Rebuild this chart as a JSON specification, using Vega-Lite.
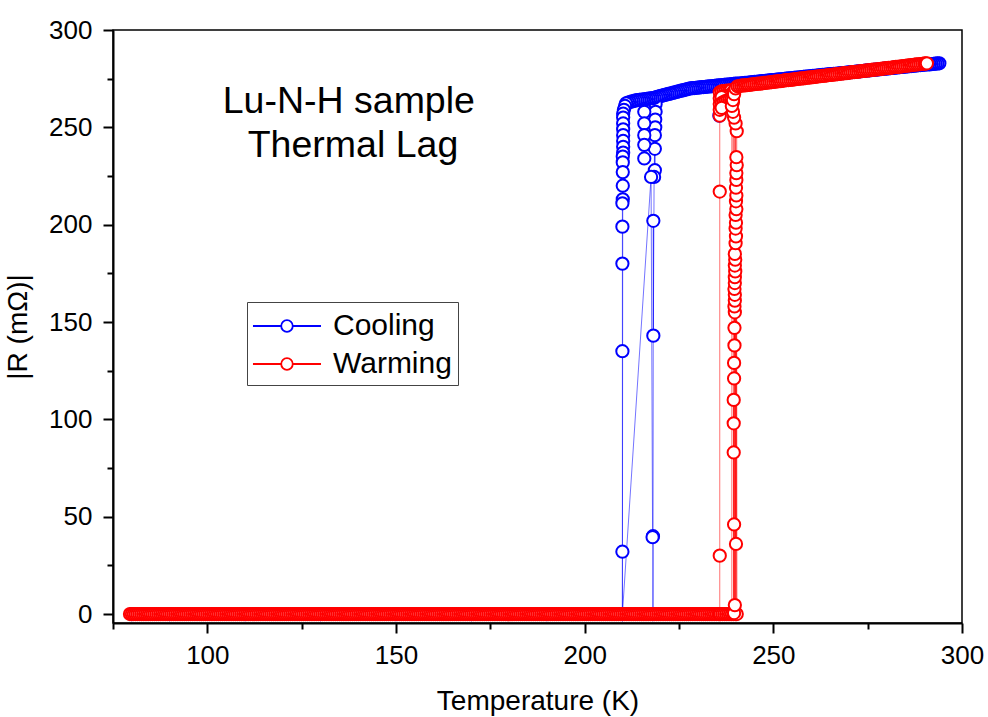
{
"$schema":"https://vega.github.io/schema/vega-lite/v6.json",
"width":849,"height":593,
"autosize":{"type":"none"},
"padding":{"left":113,"top":30,"right":26,"bottom":94},
"background":"white",
"config":{"font":"Liberation Sans","view":{"stroke":"black","strokeWidth":1.5}},
"datasets":{
"notes":[{"T":137.5,"R":257.3,"t":"Lu-N-H sample"},{"T":138.6,"R":234.7,"t":"Thermal Lag"}],
"pts":[
{"s":"Cooling","r":1,"T":294,"R":282.9},{"s":"Cooling","r":1,"T":293.5,"R":282.8},{"s":"Cooling","r":1,"T":293,"R":282.7},{"s":"Cooling","r":1,"T":292.5,"R":282.6},{"s":"Cooling","r":1,"T":292,"R":282.5},{"s":"Cooling","r":1,"T":291.5,"R":282.4},{"s":"Cooling","r":1,"T":291,"R":282.3},{"s":"Cooling","r":1,"T":290.5,"R":282.3},{"s":"Cooling","r":1,"T":290,"R":282.2},{"s":"Cooling","r":1,"T":289.5,"R":282.1},
{"s":"Cooling","r":1,"T":289,"R":282.0},{"s":"Cooling","r":1,"T":288.5,"R":281.9},{"s":"Cooling","r":1,"T":288,"R":281.8},{"s":"Cooling","r":1,"T":287.5,"R":281.7},{"s":"Cooling","r":1,"T":287,"R":281.6},{"s":"Cooling","r":1,"T":286.5,"R":281.5},{"s":"Cooling","r":1,"T":286,"R":281.4},{"s":"Cooling","r":1,"T":285.5,"R":281.3},{"s":"Cooling","r":1,"T":285,"R":281.2},{"s":"Cooling","r":1,"T":284.5,"R":281.1},
{"s":"Cooling","r":1,"T":284,"R":281.0},{"s":"Cooling","r":1,"T":283.5,"R":280.9},{"s":"Cooling","r":1,"T":283,"R":280.8},{"s":"Cooling","r":1,"T":282.5,"R":280.7},{"s":"Cooling","r":1,"T":282,"R":280.6},{"s":"Cooling","r":1,"T":281.5,"R":280.5},{"s":"Cooling","r":1,"T":281,"R":280.4},{"s":"Cooling","r":1,"T":280.5,"R":280.3},{"s":"Cooling","r":1,"T":280,"R":280.2},{"s":"Cooling","r":1,"T":279.5,"R":280.1},
{"s":"Cooling","r":1,"T":279,"R":280.0},{"s":"Cooling","r":1,"T":278.5,"R":279.9},{"s":"Cooling","r":1,"T":278,"R":279.8},{"s":"Cooling","r":1,"T":277.5,"R":279.7},{"s":"Cooling","r":1,"T":277,"R":279.6},{"s":"Cooling","r":1,"T":276.5,"R":279.5},{"s":"Cooling","r":1,"T":276,"R":279.4},{"s":"Cooling","r":1,"T":275.5,"R":279.3},{"s":"Cooling","r":1,"T":275,"R":279.2},{"s":"Cooling","r":1,"T":274.5,"R":279.1},
{"s":"Cooling","r":1,"T":274,"R":279.0},{"s":"Cooling","r":1,"T":273.5,"R":278.9},{"s":"Cooling","r":1,"T":273,"R":278.8},{"s":"Cooling","r":1,"T":272.5,"R":278.7},{"s":"Cooling","r":1,"T":272,"R":278.6},{"s":"Cooling","r":1,"T":271.5,"R":278.5},{"s":"Cooling","r":1,"T":271,"R":278.4},{"s":"Cooling","r":1,"T":270.5,"R":278.3},{"s":"Cooling","r":1,"T":270,"R":278.2},{"s":"Cooling","r":1,"T":269.5,"R":278.1},
{"s":"Cooling","r":1,"T":269,"R":278.0},{"s":"Cooling","r":1,"T":268.5,"R":277.9},{"s":"Cooling","r":1,"T":268,"R":277.8},{"s":"Cooling","r":1,"T":267.5,"R":277.7},{"s":"Cooling","r":1,"T":267,"R":277.6},{"s":"Cooling","r":1,"T":266.5,"R":277.5},{"s":"Cooling","r":1,"T":266,"R":277.4},{"s":"Cooling","r":1,"T":265.5,"R":277.3},{"s":"Cooling","r":1,"T":265,"R":277.3},{"s":"Cooling","r":1,"T":264.5,"R":277.2},
{"s":"Cooling","r":1,"T":264,"R":277.1},{"s":"Cooling","r":1,"T":263.5,"R":277.0},{"s":"Cooling","r":1,"T":263,"R":276.9},{"s":"Cooling","r":1,"T":262.5,"R":276.8},{"s":"Cooling","r":1,"T":262,"R":276.7},{"s":"Cooling","r":1,"T":261.5,"R":276.6},{"s":"Cooling","r":1,"T":261,"R":276.5},{"s":"Cooling","r":1,"T":260.5,"R":276.4},{"s":"Cooling","r":1,"T":260,"R":276.3},{"s":"Cooling","r":1,"T":259.5,"R":276.2},
{"s":"Cooling","r":1,"T":259,"R":276.1},{"s":"Cooling","r":1,"T":258.5,"R":276.0},{"s":"Cooling","r":1,"T":258,"R":275.9},{"s":"Cooling","r":1,"T":257.5,"R":275.8},{"s":"Cooling","r":1,"T":257,"R":275.7},{"s":"Cooling","r":1,"T":256.5,"R":275.6},{"s":"Cooling","r":1,"T":256,"R":275.5},{"s":"Cooling","r":1,"T":255.5,"R":275.4},{"s":"Cooling","r":1,"T":255,"R":275.3},{"s":"Cooling","r":1,"T":254.5,"R":275.2},
{"s":"Cooling","r":1,"T":254,"R":275.1},{"s":"Cooling","r":1,"T":253.5,"R":275.0},{"s":"Cooling","r":1,"T":253,"R":274.9},{"s":"Cooling","r":1,"T":252.5,"R":274.8},{"s":"Cooling","r":1,"T":252,"R":274.7},{"s":"Cooling","r":1,"T":251.5,"R":274.6},{"s":"Cooling","r":1,"T":251,"R":274.5},{"s":"Cooling","r":1,"T":250.5,"R":274.4},{"s":"Cooling","r":1,"T":250,"R":274.3},{"s":"Cooling","r":1,"T":249.5,"R":274.2},
{"s":"Cooling","r":1,"T":249,"R":274.1},{"s":"Cooling","r":1,"T":248.5,"R":274.0},{"s":"Cooling","r":1,"T":248,"R":273.9},{"s":"Cooling","r":1,"T":247.5,"R":273.8},{"s":"Cooling","r":1,"T":247,"R":273.7},{"s":"Cooling","r":1,"T":246.5,"R":273.6},{"s":"Cooling","r":1,"T":246,"R":273.5},{"s":"Cooling","r":1,"T":245.5,"R":273.4},{"s":"Cooling","r":1,"T":245,"R":273.3},{"s":"Cooling","r":1,"T":244.5,"R":273.2},
{"s":"Cooling","r":1,"T":244,"R":273.1},{"s":"Cooling","r":1,"T":243.5,"R":273.0},{"s":"Cooling","r":1,"T":243,"R":272.9},{"s":"Cooling","r":1,"T":242.5,"R":272.8},{"s":"Cooling","r":1,"T":242,"R":272.7},{"s":"Cooling","r":1,"T":241.5,"R":272.6},{"s":"Cooling","r":1,"T":241,"R":272.5},{"s":"Cooling","r":1,"T":240.5,"R":272.4},{"s":"Cooling","r":1,"T":240,"R":272.4},{"s":"Cooling","r":1,"T":239.5,"R":272.3},
{"s":"Cooling","r":1,"T":239,"R":272.2},{"s":"Cooling","r":1,"T":238.5,"R":272.1},{"s":"Cooling","r":1,"T":238,"R":272.0},{"s":"Cooling","r":1,"T":237.5,"R":271.9},{"s":"Cooling","r":1,"T":237,"R":271.8},{"s":"Cooling","r":1,"T":236.5,"R":271.7},{"s":"Cooling","r":1,"T":236,"R":271.6},{"s":"Cooling","r":1,"T":235.7,"R":256},{"s":"Cooling","r":1,"T":235.5,"R":271.5},{"s":"Cooling","r":1,"T":235,"R":271.4},
{"s":"Cooling","r":1,"T":234.5,"R":271.3},{"s":"Cooling","r":1,"T":234,"R":271.2},{"s":"Cooling","r":1,"T":233.5,"R":271.1},{"s":"Cooling","r":1,"T":233,"R":271.0},{"s":"Cooling","r":1,"T":232.5,"R":270.9},{"s":"Cooling","r":1,"T":232,"R":270.8},{"s":"Cooling","r":1,"T":231.5,"R":270.7},{"s":"Cooling","r":1,"T":231,"R":270.6},{"s":"Cooling","r":1,"T":230.5,"R":270.5},{"s":"Cooling","r":1,"T":230,"R":270.4},
{"s":"Cooling","r":1,"T":229.5,"R":270.3},{"s":"Cooling","r":1,"T":229,"R":270.2},{"s":"Cooling","r":1,"T":228.5,"R":270.1},{"s":"Cooling","r":1,"T":228,"R":270.0},{"s":"Cooling","r":1,"T":227.5,"R":269.8},{"s":"Cooling","r":1,"T":227,"R":269.5},{"s":"Cooling","r":1,"T":226.5,"R":269.3},{"s":"Cooling","r":1,"T":226,"R":269.0},{"s":"Cooling","r":1,"T":225.5,"R":268.8},{"s":"Cooling","r":1,"T":225,"R":268.5},
{"s":"Cooling","r":1,"T":224.5,"R":268.3},{"s":"Cooling","r":1,"T":224,"R":268.0},{"s":"Cooling","r":1,"T":223.5,"R":267.8},{"s":"Cooling","r":1,"T":223,"R":267.5},{"s":"Cooling","r":1,"T":222.5,"R":267.3},{"s":"Cooling","r":1,"T":222,"R":267.0},{"s":"Cooling","r":1,"T":221.5,"R":266.8},{"s":"Cooling","r":1,"T":221,"R":266.5},{"s":"Cooling","r":1,"T":220.5,"R":266.3},{"s":"Cooling","r":1,"T":220,"R":266.0},
{"s":"Cooling","r":1,"T":219.5,"R":265.8},{"s":"Cooling","r":1,"T":219,"R":265.5},{"s":"Cooling","r":1,"T":218.8,"R":262},{"s":"Cooling","r":1,"T":218.8,"R":258},{"s":"Cooling","r":1,"T":218.7,"R":254},{"s":"Cooling","r":1,"T":218.7,"R":250},{"s":"Cooling","r":1,"T":218.6,"R":246},{"s":"Cooling","r":1,"T":218.6,"R":239},{"s":"Cooling","r":1,"T":218.6,"R":228},{"s":"Cooling","r":1,"T":218.4,"R":224.5},
{"s":"Cooling","r":1,"T":217.6,"R":224.5},{"s":"Cooling","r":1,"T":218.2,"R":202},{"s":"Cooling","r":1,"T":218.2,"R":143},{"s":"Cooling","r":1,"T":218.1,"R":40},{"s":"Cooling","r":1,"T":218.0,"R":39.5},{"s":"Cooling","r":1,"T":218.1,"R":0},{"s":"Cooling","r":1,"T":210,"R":0},{"s":"Cooling","r":1,"T":190,"R":0},{"s":"Cooling","r":1,"T":170,"R":0},{"s":"Cooling","r":1,"T":150,"R":0},
{"s":"Cooling","r":1,"T":130,"R":0},{"s":"Cooling","r":1,"T":110,"R":0},{"s":"Cooling","r":1,"T":90,"R":0},{"s":"Cooling","r":1,"T":80,"R":0},
{"s":"Cooling","r":2,"T":218.5,"R":265.2},{"s":"Cooling","r":2,"T":218,"R":265.0},{"s":"Cooling","r":2,"T":217.5,"R":264.9},{"s":"Cooling","r":2,"T":217,"R":264.8},{"s":"Cooling","r":2,"T":216.5,"R":264.6},{"s":"Cooling","r":2,"T":216,"R":264.5},{"s":"Cooling","r":2,"T":215.8,"R":258},{"s":"Cooling","r":2,"T":215.8,"R":252},{"s":"Cooling","r":2,"T":215.8,"R":246},{"s":"Cooling","r":2,"T":215.8,"R":241},
{"s":"Cooling","r":2,"T":215.8,"R":234},{"s":"Cooling","r":2,"T":215.5,"R":264.3},{"s":"Cooling","r":2,"T":215,"R":264.2},{"s":"Cooling","r":2,"T":214.5,"R":264.1},{"s":"Cooling","r":2,"T":214,"R":264.0},{"s":"Cooling","r":2,"T":213.5,"R":263.8},{"s":"Cooling","r":2,"T":213,"R":263.5},{"s":"Cooling","r":2,"T":212.5,"R":263.3},{"s":"Cooling","r":2,"T":212,"R":263.0},{"s":"Cooling","r":2,"T":211.5,"R":262.7},
{"s":"Cooling","r":2,"T":211,"R":262.3},{"s":"Cooling","r":2,"T":210.7,"R":261},{"s":"Cooling","r":2,"T":210.4,"R":259},{"s":"Cooling","r":2,"T":210.2,"R":257},{"s":"Cooling","r":2,"T":210.2,"R":255},{"s":"Cooling","r":2,"T":210.2,"R":252},{"s":"Cooling","r":2,"T":210.2,"R":249},{"s":"Cooling","r":2,"T":210.2,"R":246},{"s":"Cooling","r":2,"T":210.2,"R":243},{"s":"Cooling","r":2,"T":210.2,"R":240},
{"s":"Cooling","r":2,"T":210.2,"R":237},{"s":"Cooling","r":2,"T":210.1,"R":235},{"s":"Cooling","r":2,"T":210.1,"R":232},{"s":"Cooling","r":2,"T":210.1,"R":227},{"s":"Cooling","r":2,"T":210.1,"R":220},{"s":"Cooling","r":2,"T":210.1,"R":213},{"s":"Cooling","r":2,"T":210.0,"R":211},{"s":"Cooling","r":2,"T":210.0,"R":199},{"s":"Cooling","r":2,"T":210.0,"R":180},{"s":"Cooling","r":2,"T":210.0,"R":135},
{"s":"Cooling","r":2,"T":210.0,"R":32},{"s":"Cooling","r":2,"T":210.0,"R":0},
{"s":"Warming","r":3,"T":79.5,"R":0},{"s":"Warming","r":3,"T":80,"R":0},{"s":"Warming","r":3,"T":80.5,"R":0},{"s":"Warming","r":3,"T":81,"R":0},{"s":"Warming","r":3,"T":81.5,"R":0},{"s":"Warming","r":3,"T":82,"R":0},{"s":"Warming","r":3,"T":82.5,"R":0},{"s":"Warming","r":3,"T":83,"R":0},{"s":"Warming","r":3,"T":83.5,"R":0},{"s":"Warming","r":3,"T":84,"R":0},
{"s":"Warming","r":3,"T":84.5,"R":0},{"s":"Warming","r":3,"T":85,"R":0},{"s":"Warming","r":3,"T":85.5,"R":0},{"s":"Warming","r":3,"T":86,"R":0},{"s":"Warming","r":3,"T":86.5,"R":0},{"s":"Warming","r":3,"T":87,"R":0},{"s":"Warming","r":3,"T":87.5,"R":0},{"s":"Warming","r":3,"T":88,"R":0},{"s":"Warming","r":3,"T":88.5,"R":0},{"s":"Warming","r":3,"T":89,"R":0},
{"s":"Warming","r":3,"T":89.5,"R":0},{"s":"Warming","r":3,"T":90,"R":0},{"s":"Warming","r":3,"T":90.5,"R":0},{"s":"Warming","r":3,"T":91,"R":0},{"s":"Warming","r":3,"T":91.5,"R":0},{"s":"Warming","r":3,"T":92,"R":0},{"s":"Warming","r":3,"T":92.5,"R":0},{"s":"Warming","r":3,"T":93,"R":0},{"s":"Warming","r":3,"T":93.5,"R":0},{"s":"Warming","r":3,"T":94,"R":0},
{"s":"Warming","r":3,"T":94.5,"R":0},{"s":"Warming","r":3,"T":95,"R":0},{"s":"Warming","r":3,"T":95.5,"R":0},{"s":"Warming","r":3,"T":96,"R":0},{"s":"Warming","r":3,"T":96.5,"R":0},{"s":"Warming","r":3,"T":97,"R":0},{"s":"Warming","r":3,"T":97.5,"R":0},{"s":"Warming","r":3,"T":98,"R":0},{"s":"Warming","r":3,"T":98.5,"R":0},{"s":"Warming","r":3,"T":99,"R":0},
{"s":"Warming","r":3,"T":99.5,"R":0},{"s":"Warming","r":3,"T":100,"R":0},{"s":"Warming","r":3,"T":100.5,"R":0},{"s":"Warming","r":3,"T":101,"R":0},{"s":"Warming","r":3,"T":101.5,"R":0},{"s":"Warming","r":3,"T":102,"R":0},{"s":"Warming","r":3,"T":102.5,"R":0},{"s":"Warming","r":3,"T":103,"R":0},{"s":"Warming","r":3,"T":103.5,"R":0},{"s":"Warming","r":3,"T":104,"R":0},
{"s":"Warming","r":3,"T":104.5,"R":0},{"s":"Warming","r":3,"T":105,"R":0},{"s":"Warming","r":3,"T":105.5,"R":0},{"s":"Warming","r":3,"T":106,"R":0},{"s":"Warming","r":3,"T":106.5,"R":0},{"s":"Warming","r":3,"T":107,"R":0},{"s":"Warming","r":3,"T":107.5,"R":0},{"s":"Warming","r":3,"T":108,"R":0},{"s":"Warming","r":3,"T":108.5,"R":0},{"s":"Warming","r":3,"T":109,"R":0},
{"s":"Warming","r":3,"T":109.5,"R":0},{"s":"Warming","r":3,"T":110,"R":0},{"s":"Warming","r":3,"T":110.5,"R":0},{"s":"Warming","r":3,"T":111,"R":0},{"s":"Warming","r":3,"T":111.5,"R":0},{"s":"Warming","r":3,"T":112,"R":0},{"s":"Warming","r":3,"T":112.5,"R":0},{"s":"Warming","r":3,"T":113,"R":0},{"s":"Warming","r":3,"T":113.5,"R":0},{"s":"Warming","r":3,"T":114,"R":0},
{"s":"Warming","r":3,"T":114.5,"R":0},{"s":"Warming","r":3,"T":115,"R":0},{"s":"Warming","r":3,"T":115.5,"R":0},{"s":"Warming","r":3,"T":116,"R":0},{"s":"Warming","r":3,"T":116.5,"R":0},{"s":"Warming","r":3,"T":117,"R":0},{"s":"Warming","r":3,"T":117.5,"R":0},{"s":"Warming","r":3,"T":118,"R":0},{"s":"Warming","r":3,"T":118.5,"R":0},{"s":"Warming","r":3,"T":119,"R":0},
{"s":"Warming","r":3,"T":119.5,"R":0},{"s":"Warming","r":3,"T":120,"R":0},{"s":"Warming","r":3,"T":120.5,"R":0},{"s":"Warming","r":3,"T":121,"R":0},{"s":"Warming","r":3,"T":121.5,"R":0},{"s":"Warming","r":3,"T":122,"R":0},{"s":"Warming","r":3,"T":122.5,"R":0},{"s":"Warming","r":3,"T":123,"R":0},{"s":"Warming","r":3,"T":123.5,"R":0},{"s":"Warming","r":3,"T":124,"R":0},
{"s":"Warming","r":3,"T":124.5,"R":0},{"s":"Warming","r":3,"T":125,"R":0},{"s":"Warming","r":3,"T":125.5,"R":0},{"s":"Warming","r":3,"T":126,"R":0},{"s":"Warming","r":3,"T":126.5,"R":0},{"s":"Warming","r":3,"T":127,"R":0},{"s":"Warming","r":3,"T":127.5,"R":0},{"s":"Warming","r":3,"T":128,"R":0},{"s":"Warming","r":3,"T":128.5,"R":0},{"s":"Warming","r":3,"T":129,"R":0},
{"s":"Warming","r":3,"T":129.5,"R":0},{"s":"Warming","r":3,"T":130,"R":0},{"s":"Warming","r":3,"T":130.5,"R":0},{"s":"Warming","r":3,"T":131,"R":0},{"s":"Warming","r":3,"T":131.5,"R":0},{"s":"Warming","r":3,"T":132,"R":0},{"s":"Warming","r":3,"T":132.5,"R":0},{"s":"Warming","r":3,"T":133,"R":0},{"s":"Warming","r":3,"T":133.5,"R":0},{"s":"Warming","r":3,"T":134,"R":0},
{"s":"Warming","r":3,"T":134.5,"R":0},{"s":"Warming","r":3,"T":135,"R":0},{"s":"Warming","r":3,"T":135.5,"R":0},{"s":"Warming","r":3,"T":136,"R":0},{"s":"Warming","r":3,"T":136.5,"R":0},{"s":"Warming","r":3,"T":137,"R":0},{"s":"Warming","r":3,"T":137.5,"R":0},{"s":"Warming","r":3,"T":138,"R":0},{"s":"Warming","r":3,"T":138.5,"R":0},{"s":"Warming","r":3,"T":139,"R":0},
{"s":"Warming","r":3,"T":139.5,"R":0},{"s":"Warming","r":3,"T":140,"R":0},{"s":"Warming","r":3,"T":140.5,"R":0},{"s":"Warming","r":3,"T":141,"R":0},{"s":"Warming","r":3,"T":141.5,"R":0},{"s":"Warming","r":3,"T":142,"R":0},{"s":"Warming","r":3,"T":142.5,"R":0},{"s":"Warming","r":3,"T":143,"R":0},{"s":"Warming","r":3,"T":143.5,"R":0},{"s":"Warming","r":3,"T":144,"R":0},
{"s":"Warming","r":3,"T":144.5,"R":0},{"s":"Warming","r":3,"T":145,"R":0},{"s":"Warming","r":3,"T":145.5,"R":0},{"s":"Warming","r":3,"T":146,"R":0},{"s":"Warming","r":3,"T":146.5,"R":0},{"s":"Warming","r":3,"T":147,"R":0},{"s":"Warming","r":3,"T":147.5,"R":0},{"s":"Warming","r":3,"T":148,"R":0},{"s":"Warming","r":3,"T":148.5,"R":0},{"s":"Warming","r":3,"T":149,"R":0},
{"s":"Warming","r":3,"T":149.5,"R":0},{"s":"Warming","r":3,"T":150,"R":0},{"s":"Warming","r":3,"T":150.5,"R":0},{"s":"Warming","r":3,"T":151,"R":0},{"s":"Warming","r":3,"T":151.5,"R":0},{"s":"Warming","r":3,"T":152,"R":0},{"s":"Warming","r":3,"T":152.5,"R":0},{"s":"Warming","r":3,"T":153,"R":0},{"s":"Warming","r":3,"T":153.5,"R":0},{"s":"Warming","r":3,"T":154,"R":0},
{"s":"Warming","r":3,"T":154.5,"R":0},{"s":"Warming","r":3,"T":155,"R":0},{"s":"Warming","r":3,"T":155.5,"R":0},{"s":"Warming","r":3,"T":156,"R":0},{"s":"Warming","r":3,"T":156.5,"R":0},{"s":"Warming","r":3,"T":157,"R":0},{"s":"Warming","r":3,"T":157.5,"R":0},{"s":"Warming","r":3,"T":158,"R":0},{"s":"Warming","r":3,"T":158.5,"R":0},{"s":"Warming","r":3,"T":159,"R":0},
{"s":"Warming","r":3,"T":159.5,"R":0},{"s":"Warming","r":3,"T":160,"R":0},{"s":"Warming","r":3,"T":160.5,"R":0},{"s":"Warming","r":3,"T":161,"R":0},{"s":"Warming","r":3,"T":161.5,"R":0},{"s":"Warming","r":3,"T":162,"R":0},{"s":"Warming","r":3,"T":162.5,"R":0},{"s":"Warming","r":3,"T":163,"R":0},{"s":"Warming","r":3,"T":163.5,"R":0},{"s":"Warming","r":3,"T":164,"R":0},
{"s":"Warming","r":3,"T":164.5,"R":0},{"s":"Warming","r":3,"T":165,"R":0},{"s":"Warming","r":3,"T":165.5,"R":0},{"s":"Warming","r":3,"T":166,"R":0},{"s":"Warming","r":3,"T":166.5,"R":0},{"s":"Warming","r":3,"T":167,"R":0},{"s":"Warming","r":3,"T":167.5,"R":0},{"s":"Warming","r":3,"T":168,"R":0},{"s":"Warming","r":3,"T":168.5,"R":0},{"s":"Warming","r":3,"T":169,"R":0},
{"s":"Warming","r":3,"T":169.5,"R":0},{"s":"Warming","r":3,"T":170,"R":0},{"s":"Warming","r":3,"T":170.5,"R":0},{"s":"Warming","r":3,"T":171,"R":0},{"s":"Warming","r":3,"T":171.5,"R":0},{"s":"Warming","r":3,"T":172,"R":0},{"s":"Warming","r":3,"T":172.5,"R":0},{"s":"Warming","r":3,"T":173,"R":0},{"s":"Warming","r":3,"T":173.5,"R":0},{"s":"Warming","r":3,"T":174,"R":0},
{"s":"Warming","r":3,"T":174.5,"R":0},{"s":"Warming","r":3,"T":175,"R":0},{"s":"Warming","r":3,"T":175.5,"R":0},{"s":"Warming","r":3,"T":176,"R":0},{"s":"Warming","r":3,"T":176.5,"R":0},{"s":"Warming","r":3,"T":177,"R":0},{"s":"Warming","r":3,"T":177.5,"R":0},{"s":"Warming","r":3,"T":178,"R":0},{"s":"Warming","r":3,"T":178.5,"R":0},{"s":"Warming","r":3,"T":179,"R":0},
{"s":"Warming","r":3,"T":179.5,"R":0},{"s":"Warming","r":3,"T":180,"R":0},{"s":"Warming","r":3,"T":180.5,"R":0},{"s":"Warming","r":3,"T":181,"R":0},{"s":"Warming","r":3,"T":181.5,"R":0},{"s":"Warming","r":3,"T":182,"R":0},{"s":"Warming","r":3,"T":182.5,"R":0},{"s":"Warming","r":3,"T":183,"R":0},{"s":"Warming","r":3,"T":183.5,"R":0},{"s":"Warming","r":3,"T":184,"R":0},
{"s":"Warming","r":3,"T":184.5,"R":0},{"s":"Warming","r":3,"T":185,"R":0},{"s":"Warming","r":3,"T":185.5,"R":0},{"s":"Warming","r":3,"T":186,"R":0},{"s":"Warming","r":3,"T":186.5,"R":0},{"s":"Warming","r":3,"T":187,"R":0},{"s":"Warming","r":3,"T":187.5,"R":0},{"s":"Warming","r":3,"T":188,"R":0},{"s":"Warming","r":3,"T":188.5,"R":0},{"s":"Warming","r":3,"T":189,"R":0},
{"s":"Warming","r":3,"T":189.5,"R":0},{"s":"Warming","r":3,"T":190,"R":0},{"s":"Warming","r":3,"T":190.5,"R":0},{"s":"Warming","r":3,"T":191,"R":0},{"s":"Warming","r":3,"T":191.5,"R":0},{"s":"Warming","r":3,"T":192,"R":0},{"s":"Warming","r":3,"T":192.5,"R":0},{"s":"Warming","r":3,"T":193,"R":0},{"s":"Warming","r":3,"T":193.5,"R":0},{"s":"Warming","r":3,"T":194,"R":0},
{"s":"Warming","r":3,"T":194.5,"R":0},{"s":"Warming","r":3,"T":195,"R":0},{"s":"Warming","r":3,"T":195.5,"R":0},{"s":"Warming","r":3,"T":196,"R":0},{"s":"Warming","r":3,"T":196.5,"R":0},{"s":"Warming","r":3,"T":197,"R":0},{"s":"Warming","r":3,"T":197.5,"R":0},{"s":"Warming","r":3,"T":198,"R":0},{"s":"Warming","r":3,"T":198.5,"R":0},{"s":"Warming","r":3,"T":199,"R":0},
{"s":"Warming","r":3,"T":199.5,"R":0},{"s":"Warming","r":3,"T":200,"R":0},{"s":"Warming","r":3,"T":200.5,"R":0},{"s":"Warming","r":3,"T":201,"R":0},{"s":"Warming","r":3,"T":201.5,"R":0},{"s":"Warming","r":3,"T":202,"R":0},{"s":"Warming","r":3,"T":202.5,"R":0},{"s":"Warming","r":3,"T":203,"R":0},{"s":"Warming","r":3,"T":203.5,"R":0},{"s":"Warming","r":3,"T":204,"R":0},
{"s":"Warming","r":3,"T":204.5,"R":0},{"s":"Warming","r":3,"T":205,"R":0},{"s":"Warming","r":3,"T":205.5,"R":0},{"s":"Warming","r":3,"T":206,"R":0},{"s":"Warming","r":3,"T":206.5,"R":0},{"s":"Warming","r":3,"T":207,"R":0},{"s":"Warming","r":3,"T":207.5,"R":0},{"s":"Warming","r":3,"T":208,"R":0},{"s":"Warming","r":3,"T":208.5,"R":0},{"s":"Warming","r":3,"T":209,"R":0},
{"s":"Warming","r":3,"T":209.5,"R":0},{"s":"Warming","r":3,"T":210,"R":0},{"s":"Warming","r":3,"T":210.5,"R":0},{"s":"Warming","r":3,"T":211,"R":0},{"s":"Warming","r":3,"T":211.5,"R":0},{"s":"Warming","r":3,"T":212,"R":0},{"s":"Warming","r":3,"T":212.5,"R":0},{"s":"Warming","r":3,"T":213,"R":0},{"s":"Warming","r":3,"T":213.5,"R":0},{"s":"Warming","r":3,"T":214,"R":0},
{"s":"Warming","r":3,"T":214.5,"R":0},{"s":"Warming","r":3,"T":215,"R":0},{"s":"Warming","r":3,"T":215.5,"R":0},{"s":"Warming","r":3,"T":216,"R":0},{"s":"Warming","r":3,"T":216.5,"R":0},{"s":"Warming","r":3,"T":217,"R":0},{"s":"Warming","r":3,"T":217.5,"R":0},{"s":"Warming","r":3,"T":218,"R":0},{"s":"Warming","r":3,"T":218.5,"R":0},{"s":"Warming","r":3,"T":219,"R":0},
{"s":"Warming","r":3,"T":219.5,"R":0},{"s":"Warming","r":3,"T":220,"R":0},{"s":"Warming","r":3,"T":220.5,"R":0},{"s":"Warming","r":3,"T":221,"R":0},{"s":"Warming","r":3,"T":221.5,"R":0},{"s":"Warming","r":3,"T":222,"R":0},{"s":"Warming","r":3,"T":222.5,"R":0},{"s":"Warming","r":3,"T":223,"R":0},{"s":"Warming","r":3,"T":223.5,"R":0},{"s":"Warming","r":3,"T":224,"R":0},
{"s":"Warming","r":3,"T":224.5,"R":0},{"s":"Warming","r":3,"T":225,"R":0},{"s":"Warming","r":3,"T":225.5,"R":0},{"s":"Warming","r":3,"T":226,"R":0},{"s":"Warming","r":3,"T":226.5,"R":0},{"s":"Warming","r":3,"T":227,"R":0},{"s":"Warming","r":3,"T":227.5,"R":0},{"s":"Warming","r":3,"T":228,"R":0},{"s":"Warming","r":3,"T":228.5,"R":0},{"s":"Warming","r":3,"T":229,"R":0},
{"s":"Warming","r":3,"T":229.5,"R":0},{"s":"Warming","r":3,"T":230,"R":0},{"s":"Warming","r":3,"T":230.5,"R":0},{"s":"Warming","r":3,"T":231,"R":0},{"s":"Warming","r":3,"T":231.5,"R":0},{"s":"Warming","r":3,"T":232,"R":0},{"s":"Warming","r":3,"T":232.5,"R":0},{"s":"Warming","r":3,"T":233,"R":0},{"s":"Warming","r":3,"T":233.5,"R":0},{"s":"Warming","r":3,"T":234,"R":0},
{"s":"Warming","r":3,"T":234.5,"R":0},{"s":"Warming","r":3,"T":235,"R":0},{"s":"Warming","r":3,"T":235.5,"R":0},{"s":"Warming","r":3,"T":235.8,"R":0},{"s":"Warming","r":3,"T":235.8,"R":30},{"s":"Warming","r":3,"T":235.8,"R":217},{"s":"Warming","r":3,"T":235.8,"R":256},{"s":"Warming","r":3,"T":235.8,"R":259},{"s":"Warming","r":3,"T":235.8,"R":262},{"s":"Warming","r":3,"T":235.8,"R":265},
{"s":"Warming","r":3,"T":235.8,"R":268},{"s":"Warming","r":3,"T":236.3,"R":268.5},{"s":"Warming","r":3,"T":236.8,"R":268.6},{"s":"Warming","r":3,"T":237.3,"R":268.7},{"s":"Warming","r":3,"T":237.8,"R":268.8},{"s":"Warming","r":3,"T":238.3,"R":268.9},{"s":"Warming","r":3,"T":238.8,"R":269},{"s":"Warming","r":3,"T":239.3,"R":268},{"s":"Warming","r":3,"T":239.3,"R":265.5},{"s":"Warming","r":3,"T":238.8,"R":266.5},
{"s":"Warming","r":3,"T":238.3,"R":266.3},{"s":"Warming","r":3,"T":237.8,"R":266.2},{"s":"Warming","r":3,"T":237.3,"R":266},{"s":"Warming","r":3,"T":236.8,"R":265.8},{"s":"Warming","r":3,"T":236.3,"R":265.5},{"s":"Warming","r":3,"T":236.3,"R":262.5},{"s":"Warming","r":3,"T":236.8,"R":263},{"s":"Warming","r":3,"T":237.3,"R":263.5},{"s":"Warming","r":3,"T":237.8,"R":263.8},{"s":"Warming","r":3,"T":238.3,"R":264},
{"s":"Warming","r":3,"T":238.8,"R":264},{"s":"Warming","r":3,"T":239.3,"R":263},{"s":"Warming","r":3,"T":236.3,"R":260},
{"s":"Warming","r":4,"T":236,"R":0},{"s":"Warming","r":4,"T":236.5,"R":0},{"s":"Warming","r":4,"T":237,"R":0},{"s":"Warming","r":4,"T":237.5,"R":0},{"s":"Warming","r":4,"T":238,"R":0},{"s":"Warming","r":4,"T":238.5,"R":0},{"s":"Warming","r":4,"T":239,"R":0},{"s":"Warming","r":4,"T":239.5,"R":0},{"s":"Warming","r":4,"T":240,"R":0},{"s":"Warming","r":4,"T":240.3,"R":0},
{"s":"Warming","r":4,"T":239.6,"R":0.5},{"s":"Warming","r":4,"T":239.8,"R":4.6},{"s":"Warming","r":4,"T":240.1,"R":36},{"s":"Warming","r":4,"T":239.6,"R":46},{"s":"Warming","r":4,"T":239.5,"R":83},{"s":"Warming","r":4,"T":239.5,"R":98},{"s":"Warming","r":4,"T":239.5,"R":110},{"s":"Warming","r":4,"T":239.6,"R":121},{"s":"Warming","r":4,"T":239.6,"R":129},{"s":"Warming","r":4,"T":239.7,"R":138},
{"s":"Warming","r":4,"T":239.7,"R":147},{"s":"Warming","r":4,"T":239.8,"R":155},{"s":"Warming","r":4,"T":239.7,"R":158},{"s":"Warming","r":4,"T":239.8,"R":161},{"s":"Warming","r":4,"T":239.8,"R":164},{"s":"Warming","r":4,"T":239.7,"R":167},{"s":"Warming","r":4,"T":239.8,"R":170},{"s":"Warming","r":4,"T":239.8,"R":173},{"s":"Warming","r":4,"T":239.9,"R":176},{"s":"Warming","r":4,"T":239.8,"R":179},
{"s":"Warming","r":4,"T":239.9,"R":182},{"s":"Warming","r":4,"T":239.8,"R":185},{"s":"Warming","r":4,"T":240.0,"R":190.5},{"s":"Warming","r":4,"T":240.1,"R":194},{"s":"Warming","r":4,"T":240.0,"R":198},{"s":"Warming","r":4,"T":240.1,"R":201},{"s":"Warming","r":4,"T":240.0,"R":205},{"s":"Warming","r":4,"T":240.2,"R":208},{"s":"Warming","r":4,"T":240.1,"R":212},{"s":"Warming","r":4,"T":240.2,"R":215},
{"s":"Warming","r":4,"T":240.1,"R":219},{"s":"Warming","r":4,"T":240.2,"R":223},{"s":"Warming","r":4,"T":240.2,"R":226.5},{"s":"Warming","r":4,"T":240.3,"R":230.6},{"s":"Warming","r":4,"T":240.2,"R":234.7},{"s":"Warming","r":4,"T":240.3,"R":248},{"s":"Warming","r":4,"T":240.0,"R":252},{"s":"Warming","r":4,"T":239.6,"R":255},{"s":"Warming","r":4,"T":239.3,"R":258},{"s":"Warming","r":4,"T":239.0,"R":261},
{"s":"Warming","r":4,"T":239.3,"R":264},{"s":"Warming","r":4,"T":239.6,"R":267},{"s":"Warming","r":4,"T":240.0,"R":270},{"s":"Warming","r":4,"T":240.5,"R":271.1},{"s":"Warming","r":4,"T":241,"R":271.2},{"s":"Warming","r":4,"T":241.5,"R":271.4},{"s":"Warming","r":4,"T":242,"R":271.5},{"s":"Warming","r":4,"T":242.5,"R":271.6},{"s":"Warming","r":4,"T":243,"R":271.7},{"s":"Warming","r":4,"T":243.5,"R":271.8},
{"s":"Warming","r":4,"T":244,"R":271.9},{"s":"Warming","r":4,"T":244.5,"R":272.1},{"s":"Warming","r":4,"T":245,"R":272.2},{"s":"Warming","r":4,"T":245.5,"R":272.3},{"s":"Warming","r":4,"T":246,"R":272.4},{"s":"Warming","r":4,"T":246.5,"R":272.5},{"s":"Warming","r":4,"T":247,"R":272.6},{"s":"Warming","r":4,"T":247.5,"R":272.8},{"s":"Warming","r":4,"T":248,"R":272.9},{"s":"Warming","r":4,"T":248.5,"R":273.0},
{"s":"Warming","r":4,"T":249,"R":273.1},{"s":"Warming","r":4,"T":249.5,"R":273.2},{"s":"Warming","r":4,"T":250,"R":273.3},{"s":"Warming","r":4,"T":250.5,"R":273.5},{"s":"Warming","r":4,"T":251,"R":273.6},{"s":"Warming","r":4,"T":251.5,"R":273.7},{"s":"Warming","r":4,"T":252,"R":273.8},{"s":"Warming","r":4,"T":252.5,"R":273.9},{"s":"Warming","r":4,"T":253,"R":274.1},{"s":"Warming","r":4,"T":253.5,"R":274.2},
{"s":"Warming","r":4,"T":254,"R":274.3},{"s":"Warming","r":4,"T":254.5,"R":274.4},{"s":"Warming","r":4,"T":255,"R":274.5},{"s":"Warming","r":4,"T":255.5,"R":274.6},{"s":"Warming","r":4,"T":256,"R":274.8},{"s":"Warming","r":4,"T":256.5,"R":274.9},{"s":"Warming","r":4,"T":257,"R":275.0},{"s":"Warming","r":4,"T":257.5,"R":275.1},{"s":"Warming","r":4,"T":258,"R":275.2},{"s":"Warming","r":4,"T":258.5,"R":275.3},
{"s":"Warming","r":4,"T":259,"R":275.5},{"s":"Warming","r":4,"T":259.5,"R":275.6},{"s":"Warming","r":4,"T":260,"R":275.7},{"s":"Warming","r":4,"T":260.5,"R":275.8},{"s":"Warming","r":4,"T":261,"R":275.9},{"s":"Warming","r":4,"T":261.5,"R":276.1},{"s":"Warming","r":4,"T":262,"R":276.2},{"s":"Warming","r":4,"T":262.5,"R":276.3},{"s":"Warming","r":4,"T":263,"R":276.4},{"s":"Warming","r":4,"T":263.5,"R":276.5},
{"s":"Warming","r":4,"T":264,"R":276.6},{"s":"Warming","r":4,"T":264.5,"R":276.8},{"s":"Warming","r":4,"T":265,"R":276.9},{"s":"Warming","r":4,"T":265.5,"R":277.0},{"s":"Warming","r":4,"T":266,"R":277.1},{"s":"Warming","r":4,"T":266.5,"R":277.2},{"s":"Warming","r":4,"T":267,"R":277.3},{"s":"Warming","r":4,"T":267.5,"R":277.5},{"s":"Warming","r":4,"T":268,"R":277.6},{"s":"Warming","r":4,"T":268.5,"R":277.7},
{"s":"Warming","r":4,"T":269,"R":277.8},{"s":"Warming","r":4,"T":269.5,"R":277.9},{"s":"Warming","r":4,"T":270,"R":278.0},{"s":"Warming","r":4,"T":270.5,"R":278.2},{"s":"Warming","r":4,"T":271,"R":278.3},{"s":"Warming","r":4,"T":271.5,"R":278.4},{"s":"Warming","r":4,"T":272,"R":278.5},{"s":"Warming","r":4,"T":272.5,"R":278.6},{"s":"Warming","r":4,"T":273,"R":278.8},{"s":"Warming","r":4,"T":273.5,"R":278.9},
{"s":"Warming","r":4,"T":274,"R":279.0},{"s":"Warming","r":4,"T":274.5,"R":279.1},{"s":"Warming","r":4,"T":275,"R":279.2},{"s":"Warming","r":4,"T":275.5,"R":279.3},{"s":"Warming","r":4,"T":276,"R":279.5},{"s":"Warming","r":4,"T":276.5,"R":279.6},{"s":"Warming","r":4,"T":277,"R":279.7},{"s":"Warming","r":4,"T":277.5,"R":279.8},{"s":"Warming","r":4,"T":278,"R":279.9},{"s":"Warming","r":4,"T":278.5,"R":280.0},
{"s":"Warming","r":4,"T":279,"R":280.2},{"s":"Warming","r":4,"T":279.5,"R":280.3},{"s":"Warming","r":4,"T":280,"R":280.4},{"s":"Warming","r":4,"T":280.5,"R":280.5},{"s":"Warming","r":4,"T":281,"R":280.6},{"s":"Warming","r":4,"T":281.5,"R":280.7},{"s":"Warming","r":4,"T":282,"R":280.9},{"s":"Warming","r":4,"T":282.5,"R":281.0},{"s":"Warming","r":4,"T":283,"R":281.1},{"s":"Warming","r":4,"T":283.5,"R":281.2},
{"s":"Warming","r":4,"T":284,"R":281.3},{"s":"Warming","r":4,"T":284.5,"R":281.5},{"s":"Warming","r":4,"T":285,"R":281.6},{"s":"Warming","r":4,"T":285.5,"R":281.7},{"s":"Warming","r":4,"T":286,"R":281.8},{"s":"Warming","r":4,"T":286.5,"R":281.9},{"s":"Warming","r":4,"T":287,"R":282.0},{"s":"Warming","r":4,"T":287.5,"R":282.2},{"s":"Warming","r":4,"T":288,"R":282.3},{"s":"Warming","r":4,"T":288.5,"R":282.4},
{"s":"Warming","r":4,"T":289,"R":282.5},{"s":"Warming","r":4,"T":289.5,"R":282.6},{"s":"Warming","r":4,"T":290,"R":282.7},{"s":"Warming","r":4,"T":290.3,"R":282.8},{"s":"Warming","r":4,"T":290.7,"R":282.9}
]},
"layer":[
{"data":{"name":"pts"},"mark":{"type":"line","strokeWidth":1,"strokeOpacity":0.55},
 "encoding":{
  "x":{"field":"T","type":"quantitative","scale":{"domain":[75,300],"nice":false,"zero":false},"axis":null},
  "y":{"field":"R","type":"quantitative","scale":{"domain":[-4.6,300],"nice":false,"zero":false},"axis":null},
  "detail":{"field":"r","type":"nominal"},
  "order":{"value":0},
  "stroke":{"field":"s","type":"nominal","scale":{"domain":["Cooling","Warming"],"range":["#0000ff","#ff0000"]}}
 }},
{"data":{"name":"pts"},"mark":{"type":"point","shape":"circle","size":150,"strokeWidth":2,"filled":false,"fill":"white","fillOpacity":1,"opacity":1},
 "encoding":{
  "x":{"field":"T","type":"quantitative","axis":{"orient":"bottom","values":[100,150,200,250,300],"tickSize":10,"tickWidth":2,"tickColor":"black","domainColor":"black","domainWidth":2,"labelFontSize":26,"labelColor":"black","labelPadding":9,"labelFlush":false,"labelOverlap":false,"grid":false,"title":"Temperature (K)","titleFontSize":28,"titleFontWeight":"normal","titleColor":"black","titlePadding":19}},
  "y":{"field":"R","type":"quantitative","axis":{"orient":"left","values":[0,50,100,150,200,250,300],"tickSize":10,"tickWidth":2,"tickColor":"black","domainColor":"black","domainWidth":2,"labelFontSize":26,"labelColor":"black","labelPadding":11,"labelFlush":false,"labelOverlap":false,"grid":false,"title":"|R (mΩ)|","titleFontSize":28,"titleFontWeight":"normal","titleColor":"black","titlePadding":16}},
  "stroke":{"field":"s","type":"nominal","legend":{"title":null,"orient":"none","legendX":134,"legendY":272,"direction":"vertical","strokeColor":"#444444","padding":6,"labelFontSize":30,"labelColor":"black","labelOffset":44,"symbolType":"M-1.06,0H0.6M1.28,0H2.94M0.6,0A0.34,0.34,0,1,1,1.28,0A0.34,0.34,0,1,1,0.6,0","symbolSize":1156,"symbolStrokeWidth":1.8,"symbolFillColor":"white","symbolOpacity":1,"rowPadding":5,
   "encode":{"symbols":{"update":{"opacity":{"value":1},"strokeOpacity":{"value":1}}}}}}
 }},
{"data":{"name":"notes"},"mark":{"type":"point","opacity":0},
 "encoding":{
  "x":{"field":"T","type":"quantitative","axis":{"orient":"bottom","values":[75,125,175,225,275],"tickSize":6,"tickWidth":2,"tickColor":"black","domain":false,"labels":false,"grid":false,"title":null}},
  "y":{"field":"R","type":"quantitative","axis":{"orient":"left","values":[25,75,125,175,225,275],"tickSize":6,"tickWidth":2,"tickColor":"black","domain":false,"labels":false,"grid":false,"title":null}}
 }},
{"data":{"name":"notes"},"mark":{"type":"text","fontSize":37.5,"align":"center","baseline":"alphabetic","color":"black"},
 "encoding":{
  "x":{"field":"T","type":"quantitative","axis":null},
  "y":{"field":"R","type":"quantitative","axis":null},
  "text":{"field":"t"}
 }}
],
"resolve":{"axis":{"x":"independent","y":"independent"}}
}
